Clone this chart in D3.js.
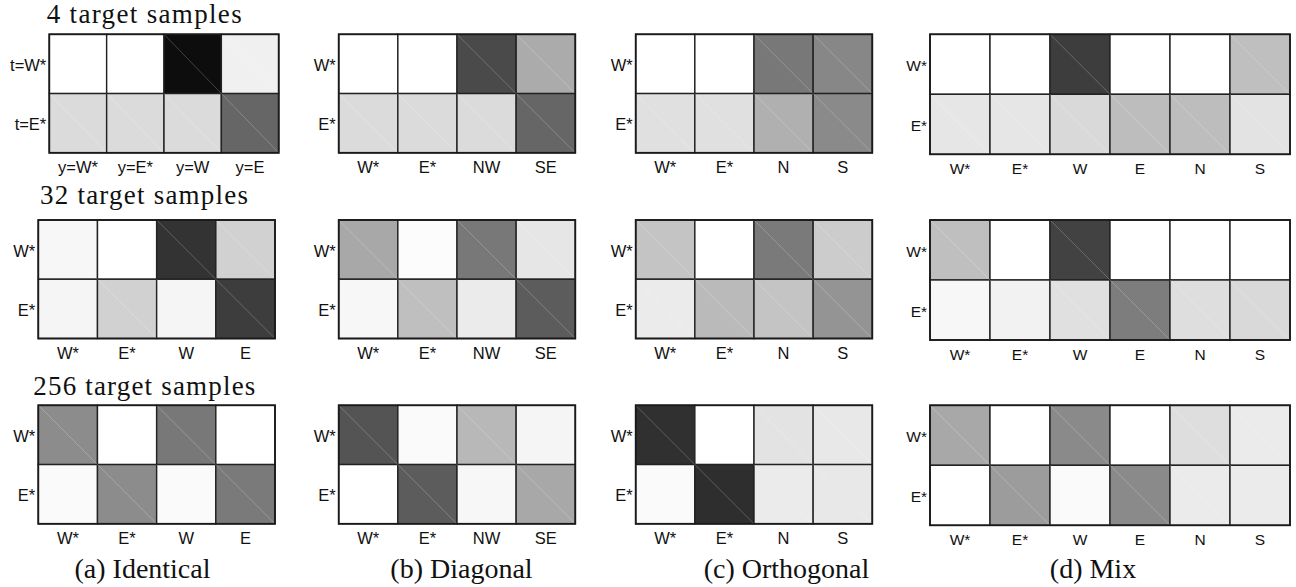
<!DOCTYPE html>
<html>
<head>
<meta charset="utf-8">
<script src="https://cdn.jsdelivr.net/npm/d3@7"></script>
<style>
  html, body { margin: 0; padding: 0; background: #fff; }
  svg { display: block; }
  .lab text { font-family: "Liberation Sans", Arial, sans-serif; font-size: 16.5px; fill: #111; }
  .serif { font-family: "Liberation Serif", "Times New Roman", serif; font-size: 27px; fill: #111; }
  .caption { font-size: 28px; }
</style>
</head>
<body>
<svg id="chart" width="1296" height="587"></svg>
<script>
// ---------------- data ----------------
const rowTitles = ["4 target samples", "32 target samples", "256 target samples"];
const captions = ["(a) Identical", "(b) Diagonal", "(c) Orthogonal", "(d) Mix"];

const rowsFirstIdentical = ["t=W*", "t=E*"];
const rowsDefault = ["W*", "E*"];

const colsIdenticalFirst = ["y=W*", "y=E*", "y=W", "y=E"];
const colsIdentical = ["W*", "E*", "W", "E"];
const colsDiagonal = ["W*", "E*", "NW", "SE"];
const colsOrthogonal = ["W*", "E*", "N", "S"];
const colsMix = ["W*", "E*", "W", "E", "N", "S"];

// darkness of each cell (0 = white, 1 = black); rows: W*, E*
const identical4   = [[0.00, 0.00, 0.95, 0.06], [0.14, 0.14, 0.14, 0.60]];
const identical32  = [[0.03, 0.00, 0.80, 0.18], [0.04, 0.18, 0.04, 0.76]];
const identical256 = [[0.45, 0.00, 0.53, 0.00], [0.02, 0.45, 0.02, 0.52]];

const diagonal4   = [[0.00, 0.00, 0.71, 0.33], [0.14, 0.14, 0.14, 0.60]];
const diagonal32  = [[0.34, 0.01, 0.53, 0.10], [0.03, 0.25, 0.08, 0.64]];
const diagonal256 = [[0.67, 0.02, 0.28, 0.04], [0.00, 0.64, 0.03, 0.34]];

const orthogonal4   = [[0.00, 0.00, 0.53, 0.47], [0.12, 0.12, 0.31, 0.46]];
const orthogonal32  = [[0.23, 0.00, 0.52, 0.20], [0.08, 0.27, 0.23, 0.42]];
const orthogonal256 = [[0.81, 0.00, 0.11, 0.09], [0.02, 0.82, 0.08, 0.09]];

const mix4   = [[0.00, 0.00, 0.76, 0.00, 0.00, 0.25], [0.10, 0.10, 0.15, 0.26, 0.26, 0.11]];
const mix32  = [[0.25, 0.00, 0.74, 0.00, 0.00, 0.00], [0.03, 0.05, 0.12, 0.51, 0.13, 0.15]];
const mix256 = [[0.34, 0.00, 0.46, 0.00, 0.13, 0.08], [0.00, 0.39, 0.02, 0.46, 0.08, 0.08]];

// ---------------- layout (positions only) ----------------
const rowTops = [34.3, 220, 405.3];
const panelDefs = [
  { key: "a", cols: [colsIdenticalFirst, colsIdentical, colsIdentical],
    rows: [rowsFirstIdentical, rowsDefault, rowsDefault],
    vals: [identical4, identical32, identical256],
    x: [[49.3, 278.7], [38.3, 275], [38.3, 275]], h: 118.5 },
  { key: "b", cols: [colsDiagonal, colsDiagonal, colsDiagonal],
    rows: [rowsDefault, rowsDefault, rowsDefault],
    vals: [diagonal4, diagonal32, diagonal256],
    x: [[338.7, 575.3], [338.7, 575.3], [338.7, 575.3]], h: 118.5 },
  { key: "c", cols: [colsOrthogonal, colsOrthogonal, colsOrthogonal],
    rows: [rowsDefault, rowsDefault, rowsDefault],
    vals: [orthogonal4, orthogonal32, orthogonal256],
    x: [[635.7, 872.3], [635.7, 872.3], [635.7, 872.3]], h: 118.5 },
  { key: "d", cols: [colsMix, colsMix, colsMix],
    rows: [rowsDefault, rowsDefault, rowsDefault],
    vals: [mix4, mix32, mix256],
    x: [[930, 1290], [930, 1290], [930, 1290]], h: 120 }
];

const titlePos = [
  { x: 46.7, y: 22.7, w: 195 },
  { x: 40, y: 203.5, w: 208 },
  { x: 33.3, y: 394.5, w: 222 }
];
const captionCx = [142.5, 461.5, 786.5, 1093];
const captionY = 578;

const color = d3.scaleLinear().domain([0, 1]).range(["#ffffff", "#000000"]);

const svg = d3.select("#chart");

// titles
svg.selectAll("text.title").data(rowTitles).join("text")
  .attr("class", "serif title")
  .attr("x", (d, i) => titlePos[i].x)
  .attr("y", (d, i) => titlePos[i].y)
  .attr("textLength", (d, i) => titlePos[i].w)
  .attr("lengthAdjust", "spacing")
  .text(d => d);

// captions
svg.selectAll("text.caption").data(captions).join("text")
  .attr("class", "serif caption")
  .attr("x", (d, i) => captionCx[i])
  .attr("y", captionY)
  .attr("text-anchor", "middle")
  .text(d => d);

panelDefs.forEach(p => {
  rowTops.forEach((top, r) => {
    const cols = p.cols[r], rows = p.rows[r], vals = p.vals[r];
    const x = d3.scaleBand().domain(cols).range(p.x[r]);
    const y = d3.scaleBand().domain(rows).range([top, top + p.h]);
    const g = svg.append("g");

    const cells = [];
    rows.forEach((rl, ri) => cols.forEach((cl, ci) => cells.push({ r: rl, c: cl, v: vals[ri][ci] })));

    g.selectAll("rect.cell").data(cells).join("rect")
      .attr("class", "cell")
      .attr("x", d => x(d.c))
      .attr("y", d => y(d.r))
      .attr("width", x.bandwidth())
      .attr("height", y.bandwidth())
      .attr("fill", d => color(d.v))
      .attr("stroke", "#222")
      .attr("stroke-width", 1.4);

    // faint diagonal artefact inside each cell
    g.selectAll("line.diag").data(cells.filter(d => d.v > 0.015)).join("line")
      .attr("x1", d => x(d.c)).attr("y1", d => y(d.r))
      .attr("x2", d => x(d.c) + x.bandwidth()).attr("y2", d => y(d.r) + y.bandwidth())
      .attr("stroke", "#fff").attr("stroke-opacity", 0.28).attr("stroke-width", 0.8);

    // outer frame
    g.append("rect")
      .attr("x", p.x[r][0]).attr("y", top)
      .attr("width", p.x[r][1] - p.x[r][0]).attr("height", p.h)
      .attr("fill", "none").attr("stroke", "#1a1a1a").attr("stroke-width", 1.8);

    // axes
    const fs = p.key === "d" ? "15.5px" : "16.5px";
    const ax = g.append("g").attr("class", "lab")
      .attr("transform", `translate(0,${top + p.h})`)
      .call(d3.axisBottom(x).tickSize(0).tickPadding(8.5));
    ax.select(".domain").remove();
    ax.selectAll("text").style("font-size", fs).attr("fill", "#111");

    const ay = g.append("g").attr("class", "lab")
      .attr("transform", `translate(${p.x[r][0]},0)`)
      .call(d3.axisLeft(y).tickSize(0).tickPadding(3));
    ay.select(".domain").remove();
    ay.selectAll("text").style("font-size", fs).attr("dy", "0.42em").attr("fill", "#111");
  });
});
</script>
</body>
</html>
